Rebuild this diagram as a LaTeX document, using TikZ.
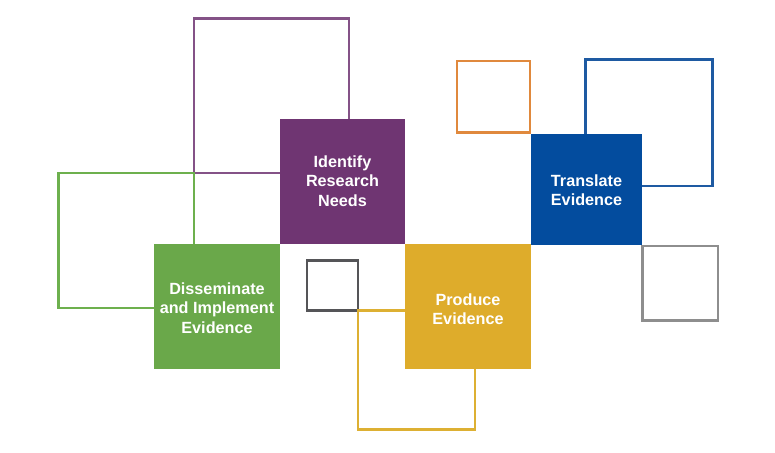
\documentclass[tikz,border=0pt]{standalone}
\usepackage{fontspec}
\setmainfont{Liberation Sans}
\definecolor{cpurple}{HTML}{6F3572}
\definecolor{cpurpleL}{HTML}{845287}
\definecolor{cgreen}{HTML}{6AA84A}
\definecolor{cgreenL}{HTML}{6DB04E}
\definecolor{cyellow}{HTML}{DEAC2B}
\definecolor{cyellowL}{HTML}{DDB033}
\definecolor{cblue}{HTML}{034C9E}
\definecolor{cblueL}{HTML}{1E5AA2}
\definecolor{corange}{HTML}{E0893D}
\definecolor{cgray}{HTML}{8E8E8E}
\definecolor{cdark}{HTML}{555558}
\begin{document}
\begin{tikzpicture}[x=1pt,y=-1pt,
  outl/.style={line width=2.8pt},
  fbox/.style={rectangle, inner sep=0pt, anchor=north west},
  ftext/.style={text=white, font=\bfseries\fontsize{16.2}{19.4}\selectfont, align=center}]
\useasboundingbox[fill=white] (0,0) rectangle (775,452);
% outline squares
\draw[outl, cpurpleL] (194,18.5) rectangle (349,173);
\draw[outl, cgreenL] (58.5,173) rectangle (194,308);
\draw[outl, cdark] (307,260.5) rectangle (358,310.5);
\draw[outl, cyellowL] (358,310.5) rectangle (475,429.5);
\draw[outl, corange] (457,61) rectangle (530,132.5);
\draw[outl, cblueL] (585.5,59.5) rectangle (712.5,186);
\draw[outl, cgray] (642.5,246) rectangle (718,320.5);
% filled boxes
\node[fbox, fill=cpurple, minimum width=125.5pt, minimum height=124.5pt] (identify) at (279.5,119) {};
\node[ftext] (identifyT) at (342.5,181) {Identify\\Research\\Needs};
\node[fbox, fill=cgreen, minimum width=126pt, minimum height=124.5pt] (dissem) at (154,244) {};
\node[ftext] (dissemT) at (217,308) {Disseminate\\and Implement\\Evidence};
\node[fbox, fill=cyellow, minimum width=125.5pt, minimum height=125pt] (produce) at (405,244) {};
\node[ftext] (produceT) at (468,309) {Produce\\Evidence};
\node[fbox, fill=cblue, minimum width=111.5pt, minimum height=111pt] (translate) at (530.5,134) {};
\node[ftext] (translateT) at (586.5,190) {Translate\\Evidence};
\end{tikzpicture}
\end{document}
